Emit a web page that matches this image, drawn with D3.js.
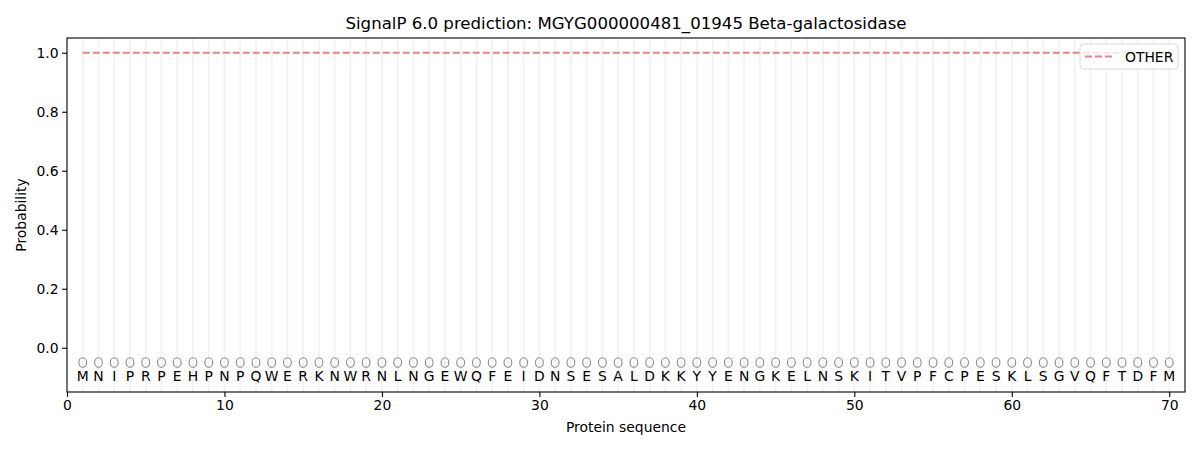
<!DOCTYPE html>
<html>
<head>
<meta charset="utf-8">
<script src="https://cdn.jsdelivr.net/npm/d3@7"></script>
<style>
  body { margin: 0; background: #fff; }
  text { font-family: "DejaVu Sans", sans-serif; }
</style>
</head>
<body>
<svg width="1200" height="450"></svg>
<script>
// data
var sequence = 'MNIPRPEHPNPQWERKNWRNLNGEWQFEIDNSESALDKKYYENGKELNSKITVPFCPESKLSGVQFTDFM'.split('')
var positions = sequence.map(function (d, i) { return i + 1 })
var otherProb = positions.map(function () { return 1.0 })
var xTicks = [0, 10, 20, 30, 40, 50, 60, 70]
var yTicks = [0.0, 0.2, 0.4, 0.6, 0.8, 1.0]

var svg = d3.select('svg')
var margin = { left: 67, right: 15, top: 38, bottom: 58 }
var width = +svg.attr('width')
var height = +svg.attr('height')
var fs = 13.9

var x = d3.scaleLinear().domain([0, 71]).range([margin.left, width - margin.right])
var y = d3.scaleLinear().domain([-0.15, 1.05]).range([height - margin.bottom, margin.top])

// vertical guide lines per residue
svg.append('g')
  .selectAll('line')
  .data(positions)
  .enter().append('line')
    .attr('x1', function (d) { return x(d) })
    .attr('x2', function (d) { return x(d) })
    .attr('y1', y(1.05))
    .attr('y2', y(-0.15))
    .attr('stroke', '#f2f2f2')
    .attr('stroke-width', 1.8)

// OTHER line
var line = d3.line()
  .x(function (d, i) { return x(positions[i]) })
  .y(function (d) { return y(d) })

svg.append('path')
  .datum(otherProb)
  .attr('d', line)
  .attr('fill', 'none')
  .attr('stroke', '#f08080')
  .attr('stroke-width', 2)
  .attr('stroke-dasharray', '7,3')

// residue markers and letters
svg.append('g')
  .selectAll('ellipse')
  .data(positions)
  .enter().append('ellipse')
    .attr('cx', function (d) { return x(d) })
    .attr('cy', y(-0.05))
    .attr('rx', 3.9)
    .attr('ry', 4.8)
    .attr('fill', 'none')
    .attr('stroke', '#8a8a8a')
    .attr('stroke-width', 1.1)

svg.append('g')
  .selectAll('text')
  .data(sequence)
  .enter().append('text')
    .attr('x', function (d, i) { return x(positions[i]) })
    .attr('y', y(-0.09) + 7)
    .attr('text-anchor', 'middle')
    .attr('font-size', fs)
    .text(function (d) { return d })

// axes
var xAxis = svg.append('g')
  .attr('transform', 'translate(0,' + (height - margin.bottom) + ')')
  .call(d3.axisBottom(x).tickValues(xTicks).tickSize(4.9).tickPadding(3.5).tickFormat(d3.format('d')))
var yAxis = svg.append('g')
  .attr('transform', 'translate(' + margin.left + ',0)')
  .call(d3.axisLeft(y).tickValues(yTicks).tickSize(4.9).tickPadding(3.5).tickFormat(d3.format('.1f')))

;[xAxis, yAxis].forEach(function (a) {
  a.selectAll('text').attr('font-size', fs).attr('fill', '#000').style('font-family', '"DejaVu Sans", sans-serif')
  a.selectAll('line').attr('stroke', '#000').attr('stroke-width', 1.1)
  a.select('.domain').remove()
})

// frame
svg.append('rect')
  .attr('x', margin.left)
  .attr('y', margin.top)
  .attr('width', width - margin.left - margin.right)
  .attr('height', height - margin.top - margin.bottom)
  .attr('fill', 'none')
  .attr('stroke', '#000')
  .attr('stroke-width', 1.1)

// labels
svg.append('text')
  .attr('x', (margin.left + width - margin.right) / 2)
  .attr('y', 29)
  .attr('text-anchor', 'middle')
  .attr('font-size', 16.6)
  .text('SignalP 6.0 prediction: MGYG000000481_01945 Beta-galactosidase')

svg.append('text')
  .attr('x', (margin.left + width - margin.right) / 2)
  .attr('y', 432)
  .attr('text-anchor', 'middle')
  .attr('font-size', fs)
  .text('Protein sequence')

svg.append('text')
  .attr('transform', 'translate(26,' + ((margin.top + height - margin.bottom) / 2) + ') rotate(-90)')
  .attr('text-anchor', 'middle')
  .attr('font-size', fs)
  .text('Probability')

// legend
var lg = svg.append('g').attr('transform', 'translate(' + (width - margin.right - 105) + ',' + (margin.top + 6) + ')')
lg.append('rect')
  .attr('width', 98)
  .attr('height', 25)
  .attr('rx', 3)
  .attr('fill', 'rgba(255,255,255,0.8)')
  .attr('stroke', '#d8d8d8')
lg.append('line')
  .attr('x1', 5).attr('x2', 33)
  .attr('y1', 12.5).attr('y2', 12.5)
  .attr('stroke', '#f08080')
  .attr('stroke-width', 2)
  .attr('stroke-dasharray', '7,3')
lg.append('text')
  .attr('x', 45)
  .attr('y', 17.5)
  .attr('font-size', fs)
  .text('OTHER')
</script>
</body>
</html>
